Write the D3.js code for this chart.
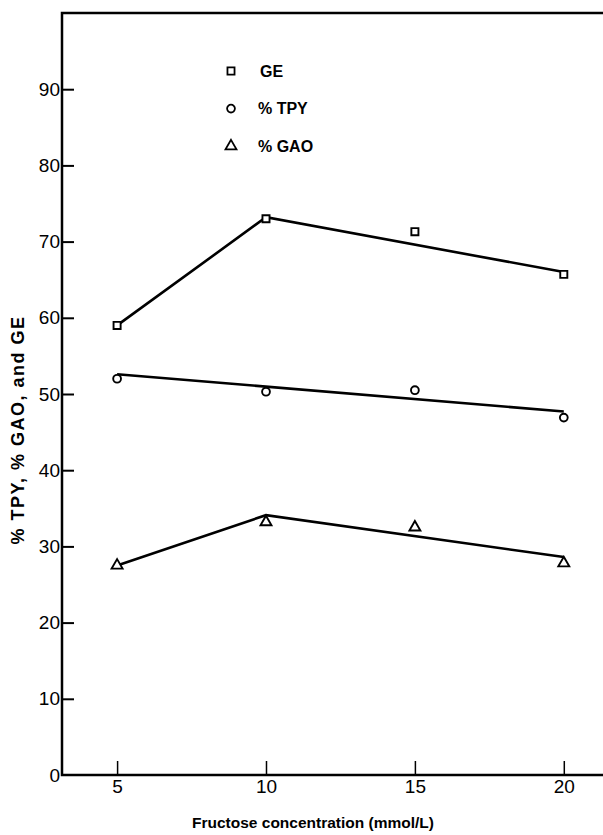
<!DOCTYPE html>
<html>
<head>
  <meta charset='utf-8'>
  <style>
    body { margin: 0; background: #fff; }
    text { font-family: "Liberation Sans", Arial, sans-serif; fill: #000; }
  </style>
  <script src='https://cdn.jsdelivr.net/npm/d3@7'></script>
</head>
<body>
  <script>
    // data
    const conc = [5, 10, 15, 20]
    const ge = [59.0, 73.0, 71.3, 65.7]
    const tpy = [52.0, 50.3, 50.5, 46.9]
    const gao = [27.5, 33.2, 32.5, 27.8]
    // fitted lines drawn in the figure
    const geLine = [[5, 59.0], [10, 73.2], [20, 66.0]]
    const tpyLine = [[5, 52.6], [20, 47.7]]
    const gaoLine = [[5, 27.5], [10, 34.1], [20, 28.6]]
    const yTicks = [0, 10, 20, 30, 40, 50, 60, 70, 80, 90]
    const xTicks = [5, 10, 15, 20]
    const legendNames = ["GE", "% TPY", "% GAO"]

    const W = 603, H = 835
    const x = d3.scaleLinear([3.15, 21.35], [62, 604])
    const y = d3.scaleLinear([0, 100], [775, 13])

    const svg = d3.select("body").append("svg")
      .attr("width", W).attr("height", H)

    // frame: left, bottom, top
    const frame = svg.append("g").attr("stroke", "#000").attr("stroke-width", 2.5).attr("fill", "none")
    frame.append("path")
      .attr("d", `M${x(21.35)},${y(100)}H${x(3.15)}V${y(0)}H${x(21.35)}`)

    // y axis
    const yAxis = svg.append("g")
      .attr("transform", `translate(${x(3.15)},0)`)
      .call(d3.axisRight(y).tickValues(yTicks).tickSize(12).tickFormat(d3.format("d")))
    yAxis.select(".domain").remove()
    yAxis.selectAll(".tick line").attr("stroke-width", 2)
    yAxis.selectAll(".tick text")
      .attr("x", -2).attr("text-anchor", "end")
      .style("font-size", "19px").attr("font-family", null)
    yAxis.selectAll(".tick").filter(d => d === 0).select("line").remove()

    // x axis
    const xAxis = svg.append("g")
      .attr("transform", `translate(0,${y(0)})`)
      .call(d3.axisTop(x).tickValues(xTicks).tickSize(14))
    xAxis.select(".domain").remove()
    xAxis.selectAll(".tick line").attr("stroke-width", 1.5)
    xAxis.selectAll(".tick text")
      .attr("y", 18).attr("dy", null)
      .style("font-size", "19px").attr("font-family", null)

    const line = d3.line().x(d => x(d[0])).y(d => y(d[1]))
    const g = svg.append("g").attr("fill", "none").attr("stroke", "#000").attr("stroke-width", 2.6)
    ;[geLine, tpyLine, gaoLine].forEach(l => g.append("path").attr("d", line(l)))

    const symbols = [d3.symbolSquare, d3.symbolCircle, d3.symbolTriangle]
    const sizes = [50, 48, 52]
    const series = [ge, tpy, gao]
    const sym = i => d3.symbol(symbols[i], sizes[i])()

    series.forEach((s, i) => {
      svg.append("g").selectAll("path")
        .data(s)
        .join("path")
        .attr("transform", (d, j) => `translate(${x(conc[j])},${y(d)})`)
        .attr("d", sym(i))
        .attr("fill", "#fff").attr("stroke", "#000").attr("stroke-width", 1.9)
    })

    // legend
    const leg = svg.append("g").attr("transform", "translate(231,71)")
    legendNames.forEach((name, i) => {
      leg.append("path")
        .attr("transform", `translate(0,${i * 37.6})`)
        .attr("d", sym(i))
        .attr("fill", "#fff").attr("stroke", "#000").attr("stroke-width", 1.8)
      leg.append("text")
        .attr("x", i === 0 ? 29 : 27).attr("y", i * 37.6).attr("dy", "0.36em")
        .style("font-size", "16px").style("font-weight", "bold")
        .text(name)
    })

    // axis titles
    svg.append("text")
      .attr("transform", `translate(24,${430}) rotate(-90)`)
      .attr("text-anchor", "middle")
      .style("font-size", "18px").style("font-weight", "bold")
      .style("letter-spacing", "1.5px")
      .text("% TPY, % GAO, and GE")

    svg.append("text")
      .attr("x", 313).attr("y", 828)
      .attr("text-anchor", "middle")
      .style("font-size", "15.5px").style("font-weight", "bold")
      .text("Fructose concentration (mmol/L)")
  </script>
</body>
</html>
